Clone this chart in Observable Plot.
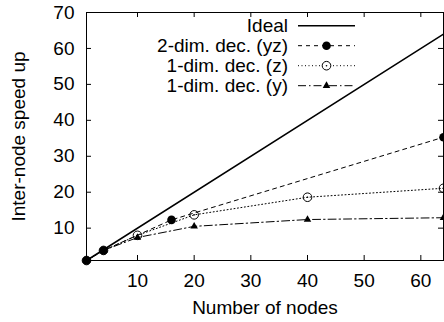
<!DOCTYPE html>
<html>
<head>
<meta charset="utf-8">
<script src="https://cdn.jsdelivr.net/npm/d3@7"></script>
<script src="https://cdn.jsdelivr.net/npm/@observablehq/plot@0.6"></script>
<style>
  html, body { margin: 0; padding: 0; background: white; }
  #chart { width: 444px; height: 322px; overflow: hidden; }
</style>
</head>
<body>
<div id="chart"></div>
<script>
// ---- data ----
const idealNodes = [1, 64];
const nodesYZ = [1, 4, 16, 64];
const speedYZ = [1, 3.8, 12.3, 35.3];
const nodesZ = [1, 4, 10, 20, 40, 64];
const speedZ = [1, 3.8, 8.0, 13.7, 18.6, 21.1];
const nodesY = [1, 4, 10, 20, 40, 64];
const speedY = [1, 3.8, 7.4, 10.5, 12.4, 12.9];
const xTicks = [10, 20, 30, 40, 50, 60];
const yTicks = [10, 20, 30, 40, 50, 60, 70];
const legendLabels = ["Ideal", "2-dim. dec. (yz)", "1-dim. dec. (z)", "1-dim. dec. (y)"];
const xLabel = "Number of nodes";
const yLabel = "Inter-node speed up";

const rowsYZ = nodesYZ.map((n, i) => ({n, s: speedYZ[i]}));
const rowsZ = nodesZ.map((n, i) => ({n, s: speedZ[i]}));
const rowsY = nodesY.map((n, i) => ({n, s: speedY[i]}));

const W = 444, H = 322;
const mL = 86, mR = 1, mT = 12, mB = 62;
const plotW = W - mL - mR, plotH = H - mT - mB;
const FONT = "'Liberation Sans', Arial, Helvetica, sans-serif";
const FS = 19;

const plot = Plot.plot({
  width: W,
  height: H,
  marginLeft: mL,
  marginRight: mR,
  marginTop: mT,
  marginBottom: mB,
  style: {fontFamily: FONT, fontSize: FS + "px", background: "white", color: "black", overflow: "visible"},
  x: {domain: [1, 64]},
  y: {domain: [1, 70]},
  marks: [
    Plot.frame({stroke: "black", strokeWidth: 1}),
    // inward ticks
    Plot.tickX(xTicks, {x: d => d, insetTop: plotH - 5, stroke: "black"}),
    Plot.tickX(xTicks, {x: d => d, insetBottom: plotH - 5, stroke: "black"}),
    Plot.tickY(yTicks, {y: d => d, insetRight: plotW - 5, stroke: "black"}),
    Plot.tickY(yTicks, {y: d => d, insetLeft: plotW - 5, stroke: "black"}),
    Plot.axisX(xTicks, {tickSize: 0, tickPadding: 13, label: null, fontSize: FS}),
    Plot.axisY(yTicks, {tickSize: 0, tickPadding: 12, label: null, fontSize: FS}),
    Plot.text([xLabel], {frameAnchor: "bottom", dy: 47, lineAnchor: "middle", fontSize: FS}),
    Plot.text([yLabel], {frameAnchor: "left", rotate: -90, dx: -68, textAnchor: "middle", lineAnchor: "middle", fontSize: FS}),
    // ideal
    Plot.line(idealNodes, {x: d => d, y: d => d, stroke: "black", strokeWidth: 1.5}),
    // 2-dim (yz)
    Plot.line(rowsYZ, {x: "n", y: "s", stroke: "black", strokeWidth: 1, strokeDasharray: "4,4"}),
    Plot.dot(rowsYZ, {x: "n", y: "s", r: 4.3, fill: "black", stroke: "none"}),
    // 1-dim (z)
    Plot.line(rowsZ, {x: "n", y: "s", stroke: "black", strokeWidth: 1, strokeDasharray: "1,2.5"}),
    Plot.dot(rowsZ, {x: "n", y: "s", r: 4.3, fill: "none", stroke: "black", strokeWidth: 1}),
    Plot.dot(rowsZ, {x: "n", y: "s", r: 0.8, fill: "black", stroke: "none"}),
    // 1-dim (y)
    Plot.line(rowsY, {x: "n", y: "s", stroke: "black", strokeWidth: 1, strokeDasharray: "8,3,1.5,3"}),
    Plot.dot(rowsY, {x: "n", y: "s", r: 2.8, symbol: "triangle", fill: "black", stroke: "none"})
  ]
});

// ---- legend (inside the plot, top) ----
const svg = d3.select(plot);
const lg = svg.append("g").attr("font-family", FONT).attr("font-size", FS);
const textRight = 288, lineX1 = 298, lineX2 = 355, markX = (lineX1 + lineX2) / 2;
const dashes = [null, "4,4", "1,2.5", "8,3,1.5,3"];
legendLabels.forEach((lab, i) => {
  const cy = 25.7 + 20 * i;
  lg.append("text").attr("x", textRight).attr("y", cy).attr("dy", "0.35em")
    .attr("text-anchor", "end").attr("fill", "black").text(lab);
  const ln = lg.append("line").attr("x1", lineX1).attr("x2", lineX2).attr("y1", cy).attr("y2", cy)
    .attr("stroke", "black").attr("stroke-width", i === 0 ? 1.5 : 1);
  if (dashes[i]) ln.attr("stroke-dasharray", dashes[i]);
  if (i === 1) lg.append("circle").attr("cx", markX).attr("cy", cy).attr("r", 4.3).attr("fill", "black");
  if (i === 2) {
    lg.append("circle").attr("cx", markX).attr("cy", cy).attr("r", 4.3).attr("fill", "white").attr("stroke", "black");
    lg.append("circle").attr("cx", markX).attr("cy", cy).attr("r", 0.8).attr("fill", "black");
  }
  if (i === 3) lg.append("path").attr("transform", `translate(${markX},${cy})`)
    .attr("d", d3.symbol(d3.symbolTriangle, Math.PI * 2.8 * 2.8)()).attr("fill", "black");
});

document.getElementById("chart").appendChild(plot);
</script>
</body>
</html>
